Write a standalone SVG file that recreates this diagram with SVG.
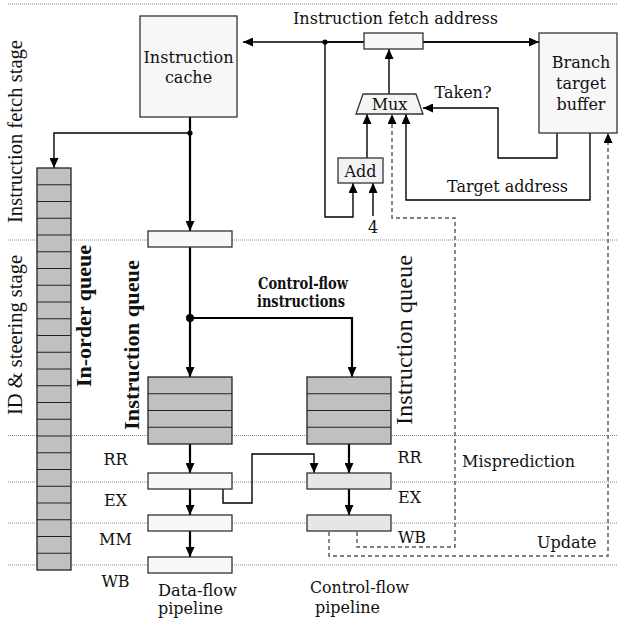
<svg xmlns="http://www.w3.org/2000/svg" width="618" height="622" viewBox="0 0 618 622">
<style>
.t{font-family:"DejaVu Serif","Liberation Serif",serif;font-size:16px;fill:#111}
.m{text-anchor:middle}
.r{font-family:"Liberation Serif","DejaVu Serif",serif;fill:#111;text-anchor:middle}
.b{font-weight:bold}
.box{fill:#f7f7f7;stroke:#333;stroke-width:1.3}
.cbox{fill:#e6e6e6;stroke:#333;stroke-width:1.3}
.q{fill:#c0c0c0;stroke:#222;stroke-width:1.3}
.ql{fill:none;stroke:#222;stroke-width:1.2}
.dot{fill:none;stroke:#888;stroke-width:1;stroke-dasharray:1 1}
.ln{fill:none;stroke:#000;stroke-width:1.4}
.th{fill:none;stroke:#000;stroke-width:2.2}
.ds{fill:none;stroke:#555;stroke-width:1.4;stroke-dasharray:4 3}
</style>
<defs>
<marker id="a" markerUnits="userSpaceOnUse" markerWidth="10" markerHeight="9" refX="10" refY="4.5" orient="auto"><path d="M0,0 L10,4.5 L0,9 z" fill="#000"/></marker>
</defs>
<rect width="618" height="622" fill="#fff"/>
<g id="stage-lines">
<path class="dot" d="M8,4H618M8,240H618M8,435.5H618M8,482H618M8,523H618M8,565H618"/>
</g>
<g id="stage-labels">
<text class="r" font-size="21" transform="translate(22,131.5) rotate(-90)" textLength="183" lengthAdjust="spacingAndGlyphs">Instruction fetch stage</text>
<text class="r" font-size="21" transform="translate(22,335) rotate(-90)" textLength="160" lengthAdjust="spacingAndGlyphs">ID &amp; steering stage</text>
<text class="t m" x="115.5" y="465">RR</text>
<text class="t m" x="115.5" y="506">EX</text>
<text class="t m" x="115.5" y="545">MM</text>
<text class="t m" x="115.5" y="587">WB</text>
<text class="t m" x="409.5" y="463">RR</text>
<text class="t m" x="409.5" y="503">EX</text>
<text class="t m" x="412" y="543">WB</text>
</g>
<g id="connectors">
<path class="ln" d="M539,42H243" marker-end="url(#a)"/>
<path class="ln" d="M325,42H539" marker-end="url(#a)"/>
<path class="ln" d="M389,94V49" marker-end="url(#a)"/>
<path class="ln" d="M557,133V158H498V108H423" marker-end="url(#a)"/>
<path class="ln" d="M590,133V200H406V114" marker-end="url(#a)"/>
<path class="ln" d="M367,158V114" marker-end="url(#a)"/>
<path class="ln" d="M325,42V217H353V183" marker-end="url(#a)"/>
<path class="ln" d="M373,216V183" marker-end="url(#a)"/>
<path class="th" d="M190,117V231" marker-end="url(#a)"/>
<path class="ln" d="M190,133H54V168" marker-end="url(#a)"/>
<path class="th" d="M190,247V377" marker-end="url(#a)"/>
<path class="th" d="M190,318H352V377" marker-end="url(#a)"/>
<path class="th" d="M190,444V473" marker-end="url(#a)"/>
<path class="th" d="M190,489V515" marker-end="url(#a)"/>
<path class="th" d="M190,531V557" marker-end="url(#a)"/>
<path class="th" d="M349,444V473" marker-end="url(#a)"/>
<path class="th" d="M349,489V515" marker-end="url(#a)"/>
<path class="ln" d="M223,489V503H252V454H314V473" marker-end="url(#a)"/>
<path class="ds" d="M357,532V547H455V218H392V114" marker-end="url(#a)"/>
<path class="ds" d="M329,532V556H608V133" marker-end="url(#a)"/>
<circle cx="325" cy="42" r="2.6" fill="#000"/>
<circle cx="190" cy="133" r="2.6" fill="#000"/>
<circle cx="190" cy="318" r="4" fill="#000"/>
</g>
<g id="icache">
<rect class="box" x="140" y="16" width="97" height="101"/>
<text class="t m" x="188.5" y="63" textLength="90" lengthAdjust="spacingAndGlyphs">Instruction</text>
<text class="t m" x="188.5" y="83">cache</text>
</g>
<g id="fetch-address">
<rect class="box" x="364" y="33" width="59" height="16"/>
<text class="t m" x="395.5" y="24" textLength="205" lengthAdjust="spacingAndGlyphs">Instruction fetch address</text>
</g>
<g id="btb">
<rect class="box" x="539" y="33" width="78" height="100"/>
<text class="t m" x="581" y="68">Branch</text>
<text class="t m" x="581" y="89">target</text>
<text class="t m" x="581" y="110">buffer</text>
</g>
<g id="mux">
<path d="M363,94H416L423,114H356Z" fill="#f4f4f4" stroke="#333" stroke-width="1.3"/>
<text class="t m" x="389.5" y="110">Mux</text>
</g>
<g id="taken-label"><text class="t m" x="463" y="98">Taken?</text></g>
<g id="add">
<rect x="338" y="158" width="45" height="25" fill="#f2f2f2" stroke="#333" stroke-width="1.3"/>
<text class="t m" x="360.5" y="177">Add</text>
</g>
<g id="four"><text class="t m" x="373" y="233">4</text></g>
<g id="target-label"><text class="t m" x="507.5" y="192" textLength="121" lengthAdjust="spacingAndGlyphs">Target address</text></g>
<g id="inorder-queue">
<rect class="q" x="37" y="168" width="34" height="402"/>
<path class="ql" d="M37,184.75H71M37,201.5H71M37,218.25H71M37,235H71M37,251.75H71M37,268.5H71M37,285.25H71M37,302H71M37,318.75H71M37,335.5H71M37,352.25H71M37,369H71M37,385.75H71M37,402.5H71M37,419.25H71M37,436H71M37,452.75H71M37,469.5H71M37,486.25H71M37,503H71M37,519.75H71M37,536.5H71M37,553.25H71"/>
<text class="r b" font-size="22" transform="translate(91,316) rotate(-90)" textLength="142" lengthAdjust="spacingAndGlyphs">In-order queue</text>
</g>
<g id="decode-reg">
<rect class="box" x="148" y="231" width="84" height="16"/>
</g>
<g id="cf-label">
<text class="t m b" font-size="15" x="303" y="289" textLength="90" lengthAdjust="spacingAndGlyphs">Control-flow</text>
<text class="t m b" font-size="15" x="301" y="307" textLength="88" lengthAdjust="spacingAndGlyphs">instructions</text>
</g>
<g id="data-queue">
<rect class="q" x="148" y="377" width="84" height="67"/>
<path class="ql" d="M148,393.75H232M148,410.5H232M148,427.25H232"/>
<text class="r b" font-size="22" transform="translate(139,345) rotate(-90)" textLength="170" lengthAdjust="spacingAndGlyphs">Instruction queue</text>
</g>
<g id="control-queue">
<rect class="q" x="307" y="377" width="84" height="67"/>
<path class="ql" d="M307,393.75H391M307,410.5H391M307,427.25H391"/>
<text class="r" font-size="23" transform="translate(412,340) rotate(-90)" textLength="170" lengthAdjust="spacingAndGlyphs">Instruction queue</text>
</g>
<g id="data-pipeline">
<rect class="box" x="148" y="473" width="84" height="16"/>
<rect class="box" x="148" y="515" width="84" height="16"/>
<rect class="box" x="148" y="557" width="84" height="16"/>
<text class="t" x="158" y="596" textLength="79" lengthAdjust="spacingAndGlyphs">Data-flow</text>
<text class="t" x="158" y="614">pipeline</text>
</g>
<g id="control-pipeline">
<rect class="cbox" x="307" y="473" width="84" height="16"/>
<rect class="cbox" x="307" y="515" width="84" height="16"/>
<text class="t" x="310" y="593" textLength="99" lengthAdjust="spacingAndGlyphs">Control-flow</text>
<text class="t" x="315" y="613">pipeline</text>
</g>
<g id="feedback-labels">
<text class="t" x="462" y="467" textLength="113" lengthAdjust="spacingAndGlyphs">Misprediction</text>
<text class="t" x="537" y="548">Update</text>
</g>
</svg>
